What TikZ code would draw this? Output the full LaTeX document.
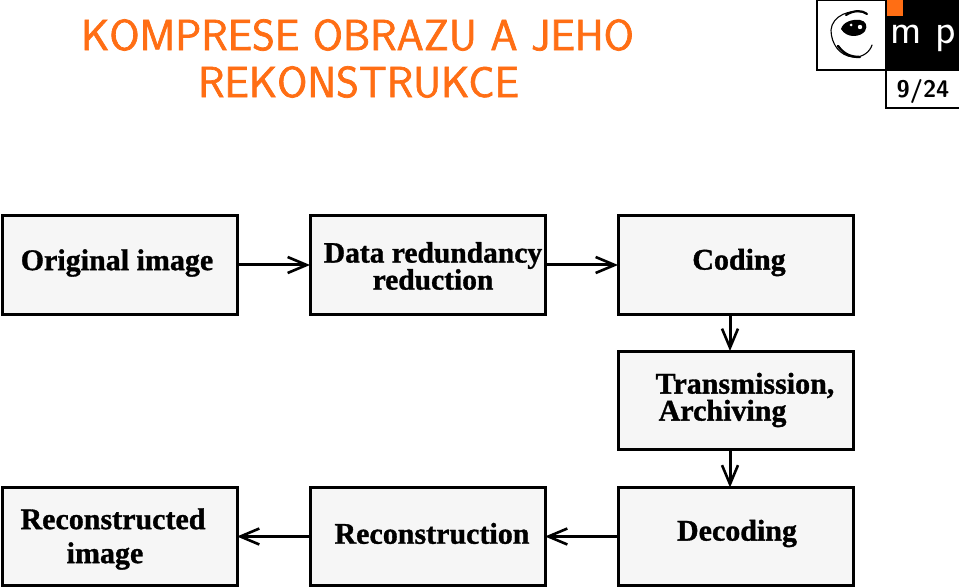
\documentclass[tikz,border=0pt]{standalone}
\usepackage{fontspec}
\setmainfont{Liberation Serif}[BoldFeatures={FakeBold=1.1}]
\setsansfont{Latin Modern Sans}
\newfontfamily\titlefam[FakeBold=1.6]{Latin Modern Sans}
\usetikzlibrary{arrows.meta}
\definecolor{cmporange}{RGB}{255,110,20}
\definecolor{boxfill}{RGB}{246,246,246}
\tikzset{
  flowbox/.style={draw=black,line width=3pt,fill=boxfill,minimum width=235pt,minimum height=98pt,inner sep=0pt,outer sep=0pt,anchor=north west},
  boxtext/.style={font=\fontsize{30}{27}\selectfont\bfseries,align=center,inner sep=0pt,text=black},
  flowarrow/.style={draw=black,line width=3pt,-{Straight Barb[length=19pt,width=16pt,line width=2.6pt]}},
  titletext/.style={font=\fontsize{43.5}{43.5}\selectfont\titlefam,text=cmporange,inner sep=0pt},
  logotext/.style={inner sep=0pt,text=white,font=\fontsize{42}{42}\selectfont\sffamily},
}
\begin{document}
\begin{tikzpicture}[x=1pt,y=-1pt]
\path[use as bounding box,fill=white] (0,0) rectangle (959,588);
\node[titletext] (t1) at (357.5,35) {KOMPRESE OBRAZU A JEHO};
\node[titletext] (t2) at (358.5,82) {REKONSTRUKCE};

\node[flowbox] (orig) at (2,216) {};
\node[flowbox] (red) at (310,216) {};
\node[flowbox] (cod) at (618,216) {};
\node[flowbox] (tra) at (618,351) {};
\node[flowbox] (dec) at (618,487.5) {};
\node[flowbox] (rec) at (310,487.5) {};
\node[flowbox] (rim) at (2,487.5) {};

\node[boxtext] (lorig) at (117,263) {Original image};
\node[boxtext,font=\fontsize{29.5}{27}\selectfont\bfseries] (lred) at (433,266) {Data redundancy\\reduction};
\node[boxtext] (lcod) at (739,262.5) {Coding};
\node[boxtext,align=left] (ltra) at (745,400) {Transmission,\\\hspace{3pt}Archiving};
\node[boxtext] (ldec) at (737,533.5) {Decoding};
\node[boxtext] (lrec) at (432,533.5) {Reconstruction};
\node[boxtext,text width=200pt] (lrim) at (113,539) {Reconstructed\\[7pt]\hspace*{-16pt}image};

\draw[flowarrow] (orig.east) -- (red.west);
\draw[flowarrow] (red.east) -- (cod.west);
\coordinate (v1) at (730,314);
\coordinate (v2) at (730,449);
\draw[flowarrow] (v1) -- (v1 |- tra.north);
\draw[flowarrow] (v2) -- (v2 |- dec.north);
\draw[flowarrow] (dec.west) -- (rec.east);
\draw[flowarrow] (rec.west) -- (rim.east);

% logo
\fill[black] (886,0) rectangle (959,70);
\fill[cmporange] (886,0) rectangle (903,16);
\draw[black,line width=2pt,fill=white] (817,0) rectangle (886,70);
\draw[black,line width=2pt,fill=white] (886,70) rectangle (962,108);
\node[logotext] (lm) at (906,34) {m};
\node[logotext] (lp) at (946,38) {p};
\node[inner sep=0pt,text=black,font=\fontsize{24}{24}\selectfont\sffamily\bfseries] (pg) at (923,92) {9/24};
% eye
\draw[black,line width=1.1pt,line cap=round] (866,13) .. controls (850,8) and (832,16) .. (831,30) .. controls (831,44) and (840,56) .. (853,57) .. controls (862,58) and (870,52) .. (872,45);
\draw[black,line width=2.2pt,line cap=round] (846,15) .. controls (854,10) and (862,10) .. (867,14);
\draw[black,line width=2.4pt,line cap=round] (838,46) .. controls (844,54) and (850,57) .. (860,57);
\fill[black] (841,29) .. controls (843,22) and (852,19) .. (860,20) .. controls (866,21) and (868,26) .. (865,31) .. controls (861,37) and (847,39) .. (841,29) -- cycle;
\fill[white] (851,25) circle (1.5pt);
\fill[white] (860,27) circle (2.2pt);
\end{tikzpicture}
\end{document}
